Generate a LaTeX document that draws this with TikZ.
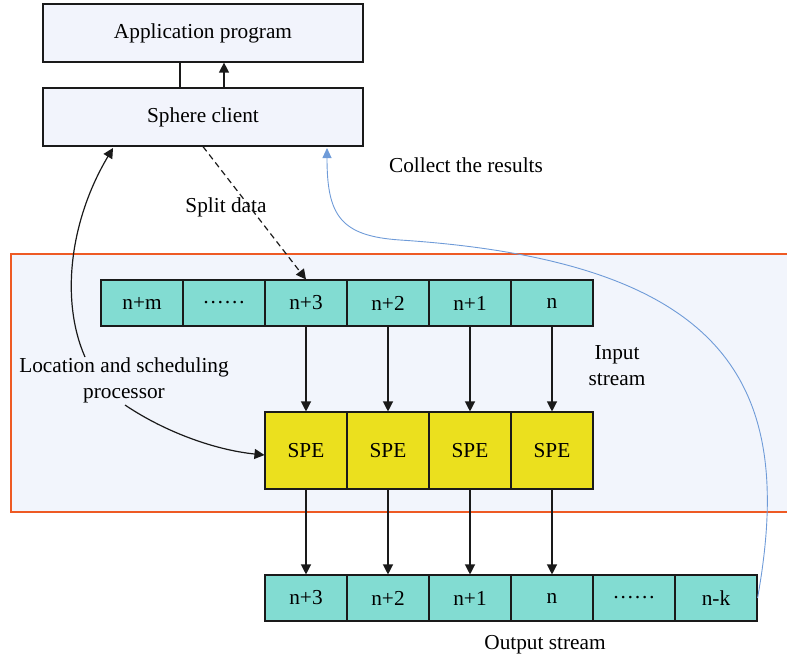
\documentclass[tikz,border=0pt]{standalone}
\usepackage{fontspec}
\setmainfont{Liberation Serif}
\usetikzlibrary{arrows.meta,calc}

\definecolor{boxfill}{HTML}{F2F4FC}
\definecolor{regionfill}{HTML}{F2F5FC}
\definecolor{regionline}{HTML}{EE5A24}
\definecolor{cellfill}{HTML}{82DCD2}
\definecolor{spefill}{HTML}{EBE01E}
\definecolor{linkblue}{HTML}{6F9BD8}
\definecolor{ink}{HTML}{1A1A1A}

\tikzset{
  topbox/.style={draw=ink, fill=boxfill, line width=1.2bp, inner sep=0pt,
    minimum width=320bp, minimum height=58bp},
  cell/.style={draw=ink, fill=cellfill, line width=1.1bp, inner sep=0pt,
    minimum width=82bp, minimum height=46bp},
  spebox/.style={draw=ink, fill=spefill, line width=1.1bp, inner sep=0pt,
    minimum width=82bp, minimum height=77bp},
  flow/.style={draw=ink, line width=1.2bp, -{Triangle[length=10bp,width=10bp]}},
  plainlink/.style={draw=ink, line width=1.2bp},
  dashlink/.style={draw=ink, line width=1.2bp, dash pattern=on 6bp off 4bp,
    -{Triangle[length=10bp,width=10bp]}},
  resultlink/.style={draw=linkblue, line width=0.9bp,
    -{Triangle[length=10bp,width=9bp]}},
  label/.style={inner sep=0pt, align=center}
}

\begin{document}
\begin{tikzpicture}[x=1bp, y=-1bp, font=\fontsize{21.3bp}{26bp}\selectfont]
  \useasboundingbox (0,0) rectangle (787,659);
  \clip (0,0) rectangle (787,659);

  % processing region
  \fill[regionfill] (11,254) rectangle (800,512);
  \draw[regionline, line width=1.2bp] (800,254) -- (11,254) -- (11,512) -- (800,512);

  % client side
  \node[topbox] (app) at (203,33) {Application program};
  \node[topbox] (sphere) at (203,117) {Sphere client};

  % input stream
  \node[cell] (in0) at (142,303) {n+m};
  \node[cell] (in1) at (224,303) {……};
  \node[cell] (in2) at (306,303) {n+3};
  \node[cell] (in3) at (388,303) {n+2};
  \node[cell] (in4) at (470,303) {n+1};
  \node[cell] (in5) at (552,303) {n};

  % processing elements
  \node[spebox] (spe0) at (306,450.5) {SPE};
  \node[spebox] (spe1) at (388,450.5) {SPE};
  \node[spebox] (spe2) at (470,450.5) {SPE};
  \node[spebox] (spe3) at (552,450.5) {SPE};

  % output stream
  \node[cell] (out0) at (306,598) {n+3};
  \node[cell] (out1) at (388,598) {n+2};
  \node[cell] (out2) at (470,598) {n+1};
  \node[cell] (out3) at (552,598) {n};
  \node[cell] (out4) at (634,598) {……};
  \node[cell] (out5) at (716,598) {n-k};

  % labels
  \node[label] (collect) at (466,165) {Collect the results};
  \node[label] (split) at (226,207) {Split data};
  \node[label] (loc) at (124,380) {Location and scheduling\\processor};
  \node[label] (instream) at (617,366) {Input\\stream};
  \node[label] (outstream) at (545,645) {Output stream};

  % client links
  \draw[plainlink] ([xshift=-23bp]app.south) -- ([xshift=-23bp]sphere.north);
  \draw[flow] ([xshift=21bp]sphere.north) -- ([xshift=21bp]app.south);

  % data split
  \draw[dashlink] (sphere.south) -- (in2.north);

  % stream flow
  \foreach \i/\j in {2/0,3/1,4/2,5/3} {
    \draw[flow] (in\i.south) -- (spe\j.north);
  }
  \foreach \j in {0,1,2,3} {
    \draw[flow] (spe\j.south) -- (out\j.north);
  }

  % scheduling links
  \coordinate (locstart) at (85,357);
  \coordinate (loctip) at (113,148);
  \coordinate (procstart) at (125,405);
  \draw[flow] (locstart) .. controls (60,300) and (70,220) .. (loctip);
  \draw[flow] (procstart) .. controls (165,432) and (215,450) .. (spe0.west |- 0,455);

  % collected results
  \coordinate (resultmid) at (400,240);
  \coordinate (resulttip) at (327,148);
  \draw[resultlink] (out5.east) .. controls (795,390) and (735,262) .. (resultmid)
    .. controls (340,236) and (327,215) .. (resulttip);
\end{tikzpicture}
\end{document}
